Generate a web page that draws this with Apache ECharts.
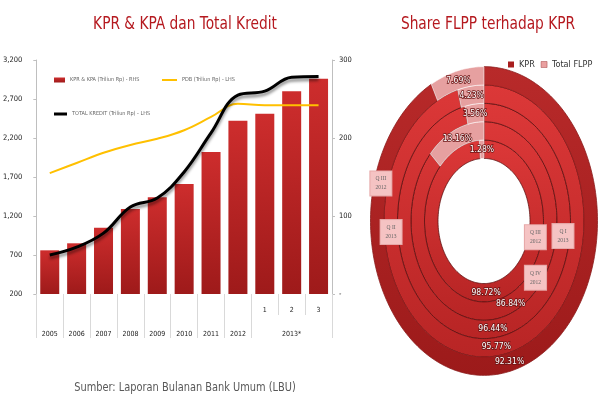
<!DOCTYPE html>
<html><head><meta charset="utf-8">
<script src="https://cdn.jsdelivr.net/npm/echarts@6/dist/echarts.min.js"></script>
<style>html,body{margin:0;padding:0;background:#fff}#c{width:600px;height:400px}</style>
</head><body><div id="c"></div>
<script>
// ---- data ----
const categories = ['2005','2006','2007','2008','2009','2010','2011','2012','1','2','3'];
const groupLabel = '2013*';
const kprKpa = [56, 65, 85, 109, 124, 141, 182, 222, 231, 260, 276];          // RHS
const pdb = [1750, 1880, 2010, 2110, 2190, 2300, 2470, 2640, 2620, 2620, 2620];  // LHS
const totalKredit = [700, 800, 980, 1315, 1430, 1765, 2265, 2750, 2800, 2980, 2990]; // LHS
const leftTicks = [200, 700, 1200, 1700, 2200, 2700, 3200];
const rightTicks = [0, 100, 200, 300];
const seriesNames = ['KPR & KPA (Triliun Rp) - RHS', 'PDB (Triliun Rp) - LHS', 'TOTAL KREDIT (Triliun Rp) - LHS'];
// donut rings, inner to outer
const ringNames = ['Q III 2012', 'Q IV 2012', 'Q I 2013', 'Q II 2013', 'Q III 2012'];
const kprShare = [98.72, 86.84, 96.44, 95.77, 92.31];
const flppShare = [1.28, 13.16, 3.56, 4.23, 7.69];
const titles = ['KPR & KPA dan Total Kredit', 'Share FLPP terhadap KPR'];
const source = 'Sumber: Laporan Bulanan Bank Umum (LBU)';

// ---- layout / style ----
const NARROW = "'Liberation Sans Narrow', 'DejaVu Sans Condensed', sans-serif";
const D = { cx: 484, cy: 221, r0: 46, w: 13.5, k: 1.36 };
const calloutAngles = [103, 129, 98, 265, 285];

function pt(r, deg) {
  const a = deg * Math.PI / 180;
  return [D.cx + r * Math.sin(a), D.cy - r * D.k * Math.cos(a)];
}
function sector(rIn, rOut, d0, d1) {
  const pts = [];
  const n = Math.max(2, Math.ceil(Math.abs(d1 - d0) / 1.5));
  for (let i = 0; i <= n; i++) pts.push(pt(rOut, d0 + (d1 - d0) * i / n));
  for (let i = n; i >= 0; i--) pts.push(pt(rIn, d0 + (d1 - d0) * i / n));
  return pts;
}
function ringGeom(api) {
  const i = api.value(0), kpr = api.value(1), flpp = api.value(2);
  const total = kpr + flpp;
  const rIn = D.r0 + i * D.w, rOut = rIn + D.w;
  return { i, kpr, flpp, rIn, rOut, rMid: (rIn + rOut) / 2, end: kpr / total * 360 };
}
function pctText(x, y, v) {
  return { type: 'text', x, y, z2: 10, scaleX: 0.9, style: {
    text: v.toFixed(2) + '%', fill: '#fff', stroke: '#6a1414', lineWidth: 1.6,
    fontSize: 9.5, fontFamily: NARROW, align: 'center', verticalAlign: 'middle' } };
}
function renderKpr(params, api) {
  const g = ringGeom(api);
  const outer = g.i === ringNames.length - 1;
  const fill = new echarts.graphic.LinearGradient(0, 0, 0, 1, outer
    ? [{ offset: 0, color: '#b82a2a' }, { offset: 1, color: '#9c1a1a' }]
    : [{ offset: 0, color: '#dc3838' }, { offset: 1, color: '#b82525' }]);
  const lp = pt(g.rMid, g.end / 2);
  const cp = pt(g.rMid, calloutAngles[g.i]);
  return { type: 'group', children: [
    { type: 'polygon', shape: { points: sector(g.rIn, g.rOut, 0, g.end) },
      style: { fill, stroke: outer ? '#8a1a1a' : '#5e1212', lineWidth: 0.8 } },
    pctText(lp[0], lp[1], g.kpr),
    { type: 'text', x: cp[0], y: cp[1], z2: 20, style: {
      text: ringNames[g.i].replace(/ (\d{4})$/, '\n$1'), fill: '#666', fontSize: 5.5,
      fontFamily: 'serif', lineHeight: 9, align: 'center', verticalAlign: 'middle',
      backgroundColor: '#f5c3c3', borderColor: '#e6a6a6', borderWidth: 1, padding: [3, 5] } }
  ] };
}
function renderFlpp(params, api) {
  const g = ringGeom(api);
  const lp = pt(g.rMid, (g.end + 360) / 2);
  return { type: 'group', children: [
    { type: 'polygon', shape: { points: sector(g.rIn, g.rOut, g.end, 360) },
      style: { fill: '#e6a0a0', stroke: 'rgba(255,255,255,0.7)', lineWidth: 0.8 } },
    pctText(lp[0], lp[1], g.flpp)
  ] };
}
const ringData = ringNames.map((n, i) => [i, kprShare[i], flppShare[i]]);

const chart = echarts.init(document.getElementById('c'));
chart.setOption({
  animation: false,
  textStyle: { fontFamily: NARROW },
  grid: { left: 32, right: 268, top: 60, bottom: 106, containLabel: false },
  graphic: [
    { type: 'text', x: 185, y: 25, scaleX: 0.9, style: { text: titles[0], fill: '#b5191f', fontSize: 17, fontFamily: NARROW, align: 'center', verticalAlign: 'middle' } },
    { type: 'text', x: 488, y: 25, scaleX: 0.9, style: { text: titles[1], fill: '#b5191f', fontSize: 17, fontFamily: NARROW, align: 'center', verticalAlign: 'middle' } },
    { type: 'text', x: 185, y: 388, scaleX: 0.84, style: { text: source, fill: '#595959', fontSize: 13, fontFamily: NARROW, align: 'center', verticalAlign: 'middle' } }
  ],
  legend: [
    { left: 49, top: 72, itemWidth: 11, itemHeight: 5, data: [{ name: seriesNames[0], icon: 'rect' }],
      textStyle: { fontSize: 5.5, color: '#666', fontFamily: NARROW } },
    { left: 157, top: 72, itemWidth: 15, itemHeight: 2, data: [{ name: seriesNames[1], icon: 'rect' }],
      textStyle: { fontSize: 5.5, color: '#666', fontFamily: NARROW } },
    { left: 49, top: 106, itemWidth: 13, itemHeight: 3, data: [{ name: seriesNames[2], icon: 'rect' }],
      textStyle: { fontSize: 5.5, color: '#666', fontFamily: NARROW } },
    { left: 503, top: 55, itemWidth: 6, itemHeight: 6, itemGap: 6,
      data: [{ name: 'KPR', icon: 'rect', itemStyle: { color: '#a81e1e' } },
             { name: 'Total FLPP', icon: 'rect', itemStyle: { color: '#e9a0a0', borderColor: '#a04040', borderWidth: 0.5 } }],
      textStyle: { fontSize: 9, color: '#333', fontFamily: NARROW } }
  ],
  xAxis: [
    { type: 'category', data: categories, position: 'bottom',
      axisLine: { show: false },
      axisTick: { show: true, length: 44, interval: (i) => i <= 8, lineStyle: { color: '#d9d9d9' } },
      axisLabel: { interval: 0, margin: 4, fontSize: 7, lineHeight: 24, color: '#222', fontFamily: NARROW,
        formatter: (v, i) => i < 8 ? '\n' + v : (i === 9 ? v + '\n' + groupLabel : v) } },
    { type: 'category', data: categories, position: 'bottom',
      axisLine: { show: false }, axisLabel: { show: false },
      axisTick: { show: true, length: 21, interval: (i) => i >= 9, lineStyle: { color: '#d9d9d9' } } }
  ],
  yAxis: [
    { type: 'value', min: 200, max: 3200, position: 'left',
      axisLine: { show: true, lineStyle: { color: '#bfbfbf' } },
      axisTick: { show: true, length: 3, customValues: leftTicks, lineStyle: { color: '#bfbfbf' } },
      splitLine: { show: false },
      axisLabel: { customValues: leftTicks, margin: 14, fontSize: 7.5, color: '#222', fontFamily: NARROW,
        formatter: (v) => v.toLocaleString('en-US') } },
    { type: 'value', min: 0, max: 300, interval: 100, position: 'right',
      axisLine: { show: true, lineStyle: { color: '#bfbfbf' } },
      axisTick: { show: true, length: 3, lineStyle: { color: '#bfbfbf' } },
      splitLine: { show: false },
      axisLabel: { margin: 7, fontSize: 7.5, color: '#222', fontFamily: NARROW,
        formatter: (v) => v === 0 ? '-' : String(v) } }
  ],
  series: [
    { name: seriesNames[0], type: 'bar', yAxisIndex: 1, data: kprKpa, barWidth: 19,
      itemStyle: { color: new echarts.graphic.LinearGradient(0, 0, 0, 1, [
        { offset: 0, color: '#cd2d2d' }, { offset: 1, color: '#9e1a1a' }]) } },
    { name: seriesNames[1], type: 'line', yAxisIndex: 0, data: pdb, smooth: 0.4, symbol: 'none',
      itemStyle: { color: '#ffc000' }, lineStyle: { color: '#ffc000', width: 2 } },
    { name: seriesNames[2], type: 'line', yAxisIndex: 0, data: totalKredit, smooth: 0.4, symbol: 'none',
      itemStyle: { color: '#000' },
      lineStyle: { color: '#000', width: 3, shadowColor: 'rgba(0,0,0,0.45)', shadowBlur: 3, shadowOffsetY: 3 } },
    { name: 'KPR', type: 'custom', coordinateSystem: 'none', renderItem: renderKpr, data: ringData,
      itemStyle: { color: '#a81e1e' }, z: 2 },
    { name: 'Total FLPP', type: 'custom', coordinateSystem: 'none', renderItem: renderFlpp, data: ringData,
      itemStyle: { color: '#e9a0a0' }, z: 3 }
  ]
});
</script></body></html>
